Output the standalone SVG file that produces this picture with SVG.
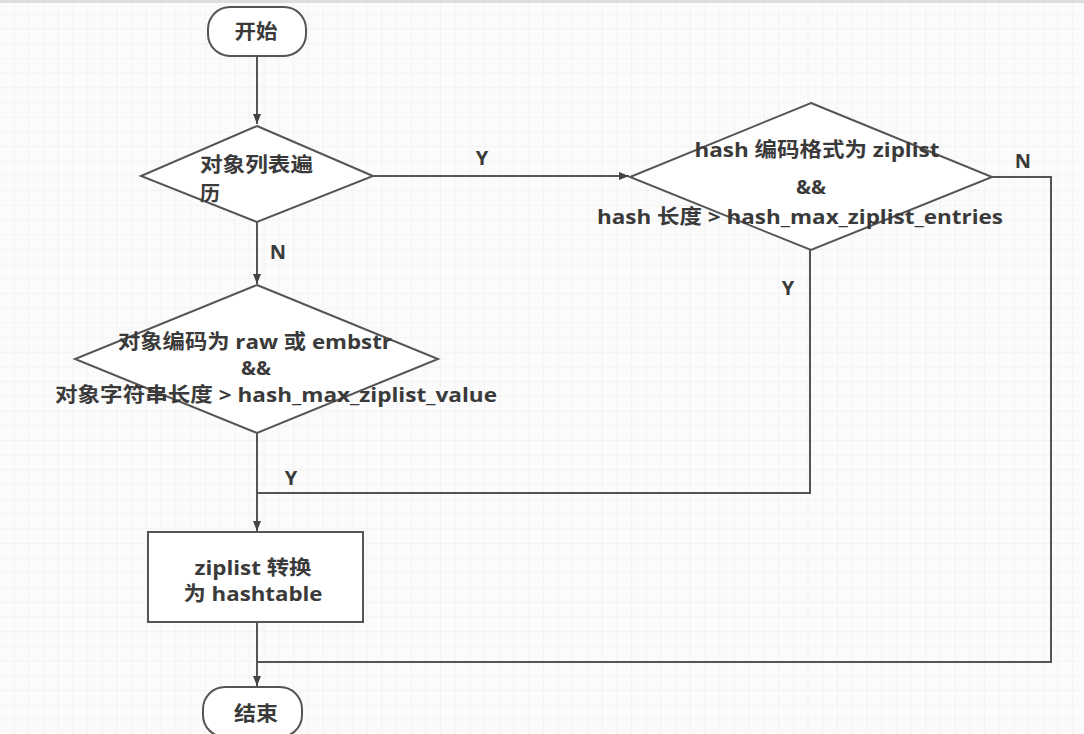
<svg xmlns="http://www.w3.org/2000/svg" width="1084" height="734" viewBox="0 0 1084 734">
<defs>
<pattern id="grid" width="14.7" height="14.7" patternUnits="userSpaceOnUse">
<path d="M14.7 0V14.7H0" fill="none" stroke="#ececec" stroke-width="1"/>
</pattern>
<marker id="arr" viewBox="0 0 10 10" refX="10" refY="5" markerWidth="10" markerHeight="10" markerUnits="userSpaceOnUse" orient="auto">
<path d="M0 1L10 5L0 9z" fill="#444"/>
</marker>
<style>
.shape{fill:#fff;stroke:#555;stroke-width:2}
.line{fill:none;stroke:#555;stroke-width:2}
.t{font-family:"Open Sans","Noto Sans CJK SC",sans-serif;font-size:20px;font-weight:bold;fill:#3a3a3a;text-anchor:middle}
.s{text-anchor:start}
</style>
</defs>
<rect width="1084" height="734" fill="#fbfbfb"/>
<rect width="1084" height="734" fill="url(#grid)"/>
<rect width="1084" height="3" fill="#ddd"/>
<g id="connectors">
<path class="line" d="M257 57V124" marker-end="url(#arr)"/>
<path class="line" d="M373 176H629" marker-end="url(#arr)"/>
<path class="line" d="M257 222V284" marker-end="url(#arr)"/>
<path class="line" d="M257 433V531" marker-end="url(#arr)"/>
<path class="line" d="M810 250V493H257"/>
<path class="line" d="M992 177H1051V662H257"/>
<path class="line" d="M257 622V686" marker-end="url(#arr)"/>
<text class="t" x="482" y="165">Y</text>
<text class="t" x="1023" y="168">N</text>
<text class="t" x="278" y="259">N</text>
<text class="t" x="788" y="295">Y</text>
<text class="t" x="291" y="485">Y</text>
</g>
<g id="start">
<rect class="shape" x="208" y="7" width="98" height="49" rx="22"/>
<text class="t" x="256" y="39" textLength="43" lengthAdjust="spacingAndGlyphs">开始</text>
</g>
<g id="loop">
<polygon class="shape" points="257,126 373,176 257,222 141,176"/>
<text class="t s" x="200" y="172" textLength="113" lengthAdjust="spacingAndGlyphs">对象列表遍</text>
<text class="t s" x="200" y="201">历</text>
</g>
<g id="check-hash">
<polygon class="shape" points="811,103 992,177 811,250 630,177"/>
<text class="t" x="817" y="157" textLength="245" lengthAdjust="spacingAndGlyphs">hash 编码格式为 ziplist</text>
<text class="t" x="811" y="194">&amp;&amp;</text>
<text class="t" x="800" y="224" textLength="406" lengthAdjust="spacingAndGlyphs">hash 长度 &gt; hash_max_ziplist_entries</text>
</g>
<g id="check-object">
<polygon class="shape" points="257,285 438,359 257,433 75,359"/>
<text class="t" x="255" y="349" textLength="274" lengthAdjust="spacingAndGlyphs">对象编码为 raw 或 embstr</text>
<text class="t" x="256" y="375">&amp;&amp;</text>
<text class="t" x="276" y="402" textLength="442" lengthAdjust="spacingAndGlyphs">对象字符串长度 &gt; hash_max_ziplist_value</text>
</g>
<g id="convert">
<rect class="shape" x="148" y="532" width="215" height="90"/>
<text class="t" x="253" y="575" textLength="117" lengthAdjust="spacingAndGlyphs">ziplist 转换</text>
<text class="t" x="253" y="601" textLength="139" lengthAdjust="spacingAndGlyphs">为 hashtable</text>
</g>
<g id="end">
<rect class="shape" x="203" y="687" width="99" height="50" rx="22"/>
<text class="t" x="256" y="721" textLength="44" lengthAdjust="spacingAndGlyphs">结束</text>
</g>
</svg>
